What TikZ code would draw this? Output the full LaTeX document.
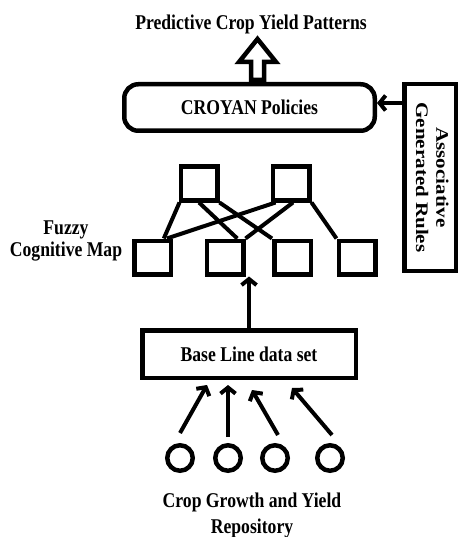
\documentclass[tikz,border=0pt]{standalone}
\usepackage{fontspec}
\setmainfont{Liberation Serif}
\usetikzlibrary{arrows.meta,calc}
\newcommand\bigfont{\fontsize{21}{22}\selectfont\bfseries}
\newcommand\sqz[1]{\scalebox{0.84}[1]{#1}}
\begin{document}
\begin{tikzpicture}[x=1pt,y=-1pt,
  box/.style={draw, line width=4.5pt, inner sep=0pt, font=\bigfont},
  fcm/.style={box, minimum width=36.5pt, minimum height=33.5pt},
  link/.style={line width=4pt},
  arr/.style={line width=4pt, -{Straight Barb[length=6pt,width=15pt]}},
  txt/.style={font=\bigfont, xscale=0.84, align=center, inner sep=0pt},
  src/.style={draw, circle, line width=4.5pt, minimum size=25.5pt, inner sep=0pt},
  hollow/.style={draw, line width=4.5pt, line join=miter}
]
\useasboundingbox (0,0) rectangle (461,537);

\node[txt] (title) at (251,24) {Predictive Crop Yield Patterns};
\node[box, rounded corners=14pt, minimum width=250.5pt, minimum height=46.5pt] (croyan) at (249.5,107.5) {\sqz{CROYAN Policies}};
\node[box, minimum width=51.5pt, minimum height=186.5pt] (assoc) at (430,177.5)
  {\rotatebox{-90}{\scalebox{1}[0.84]{\begin{tabular}{@{}c@{}}Associative\\[2pt]Generated Rules\end{tabular}}}};

\node[fcm] (T1) at (199,183.5) {};
\node[fcm] (T2) at (291,183.5) {};
\node[fcm] (B1) at (152.5,257.5) {};
\node[fcm] (B2) at (225,257.5) {};
\node[fcm] (B3) at (292.5,257.5) {};
\node[fcm] (B4) at (357,257.5) {};
\node[txt] (fcmlabel) at (66,241) {Fuzzy\\Cognitive Map};

\node[box, minimum width=213.5pt, minimum height=47.5pt] (base) at (249,354) {\sqz{Base Line data set}};

\node[src] (c1) at (180,458) {};
\node[src] (c2) at (228,458) {};
\node[src] (c3) at (275,458) {};
\node[src] (c4) at (330,458) {};
\node[txt] (repo) at (252,515) {Crop Growth and Yield\\[4pt]Repository};

% hollow output arrow
\draw[hollow] ($(croyan.north)+(1.5,-2)$) -- ++(0,-18) -- ++(-12,0) -- ++(18.5,-23)
  -- ++(18.5,23) -- ++(-12,0) -- ++(0,18) -- cycle;

% rules to policies
\draw[arr] ($(croyan.east -| assoc.west)+(0,-4.5)$) -- ($(croyan.east)+(0,-4.5)$);

% FCM links
\draw[link] ($(T1.south west)+(1,0)$) -- ($(B1.north)!0.55!(B1.north east)$);
\draw[link] (T1.south) -- ($(B2.north)!0.6!(B2.north east)$);
\draw[link] (T1.south east) -- (B3.north west);
\draw[link] ($(T2.south west)+(5,0)$) -- ($(B1.north)!0.7!(B1.north east)$);
\draw[link] ($(T2.south)+(2,0)$) -- (B2.north east);
\draw[link] (T2.south east) -- (B4.north west);

% base to FCM
\draw[arr] (base.north) -- (base.north |- B2.south);

% sources to base
\draw[arr] ($(c1.north)+(0,-10)$) -- ($(base.south west)+(67,5)$);
\draw[arr] ($(c2.north)+(0,-6)$) -- ($(base.south west)+(88,5)$);
\draw[arr] ($(c3.north)+(3,-8)$) -- ($(base.south west)+(112,10)$);
\draw[arr] ($(c4.north)+(2,-8)$) -- ($(base.south west)+(152,8)$);
\end{tikzpicture}
\end{document}
